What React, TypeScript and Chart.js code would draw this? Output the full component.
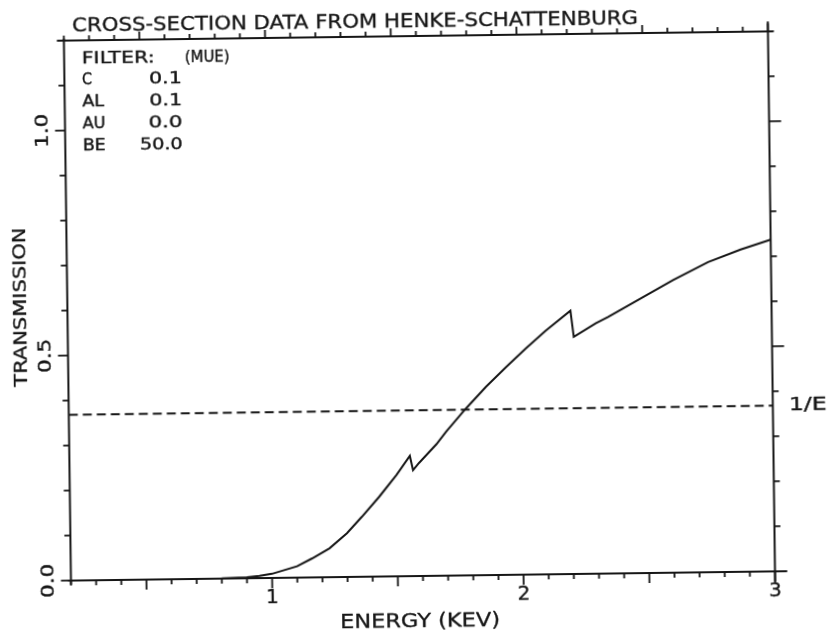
import React, { useEffect, useRef } from "react";
import { Chart, registerables } from "chart.js";

Chart.register(...registerables);

// Transmission curve of the filter stack
const energyKeV = [
  0.2, 0.5, 0.8, 0.9, 0.95, 1.0, 1.1, 1.16, 1.23, 1.3, 1.36, 1.43, 1.5, 1.554, 1.566, 1.59,
  1.66, 1.7, 1.78, 1.86, 1.94, 2.02, 2.1, 2.2, 2.212, 2.3, 2.35, 2.48, 2.61, 2.75, 2.88, 3.0,
];
const transmission = [
  0, 0, 0.0005, 0.002, 0.005, 0.009, 0.025, 0.042, 0.064, 0.097, 0.133, 0.177, 0.225, 0.267, 0.235, 0.251,
  0.292, 0.32, 0.371, 0.418, 0.461, 0.502, 0.541, 0.585, 0.527, 0.556, 0.57, 0.61, 0.65, 0.689, 0.716, 0.737,
];

// 1/e reference level
const oneOverE = 0.3679;
const referenceRange = [0.2, 3.0];

// Filter composition table
const filterElements = ["C", "AL", "AU", "BE"];
const filterThickness = ["0.1", "0.1", "0.0", "50.0"];

// Axis labelling
const xTickValues = [1, 2, 3];
const xTickLabels = ["1", "2", "3"];
const yTickValues = [0, 0.5, 1.0];
const yTickLabels = ["0.0", "0.5", "1.0"];

const INK = "#161616";
const FONT = '"DejaVu Sans", "Liberation Sans", sans-serif';

// Pen-plotter lettering: filled glyph with a thin outline, stretched to a set width
function drawFitted(
  ctx: CanvasRenderingContext2D,
  text: string,
  x: number,
  y: number,
  width: number,
  align: CanvasTextAlign,
) {
  const w = ctx.measureText(text).width || 1;
  ctx.save();
  ctx.translate(x, y);
  ctx.scale(width / w, 1);
  ctx.textAlign = align;
  ctx.lineWidth = 0.35;
  ctx.lineJoin = "round";
  ctx.fillText(text, 0, 0);
  ctx.strokeText(text, 0, 0);
  ctx.restore();
}

const plotterFrame = {
  id: "plotterFrame",
  afterDraw(chart: any) {
    const { ctx, chartArea, scales } = chart;
    const { left: L, right: R, top: T, bottom: B } = chartArea;
    const xs = scales.x;
    const ys = scales.y;
    ctx.save();
    ctx.strokeStyle = INK;
    ctx.fillStyle = INK;
    ctx.lineWidth = 2;
    ctx.lineCap = "butt";

    // frame
    ctx.beginPath();
    ctx.moveTo(L - 3, B);
    ctx.lineTo(R + 12, B);
    ctx.moveTo(L - 7, T);
    ctx.lineTo(R + 5, T);
    ctx.moveTo(L, T - 2);
    ctx.lineTo(L, B + 4);
    ctx.moveTo(R, T - 10);
    ctx.lineTo(R, B + 11);
    ctx.stroke();

    // tick marks every 0.1, longer every 0.5
    ctx.lineWidth = 1.8;
    ctx.beginPath();
    for (let i = 2; i <= 30; i++) {
      const px = xs.getPixelForValue(i / 10);
      const long = i % 5 === 0;
      ctx.moveTo(px, B);
      ctx.lineTo(px, B + (long ? 10 : 5));
      ctx.moveTo(px, T);
      ctx.lineTo(px, T - (long ? 8 : 5));
    }
    for (let j = 0; j <= 12; j++) {
      const py = ys.getPixelForValue(j / 10);
      const long = j % 5 === 0;
      ctx.moveTo(L, py);
      ctx.lineTo(L - (long ? 10 : 6), py);
      ctx.moveTo(R, py);
      ctx.lineTo(R + (long ? 12 : 6), py);
    }
    ctx.stroke();

    // x tick labels
    ctx.textBaseline = "middle";
    ctx.font = `20px ${FONT}`;
    xTickValues.forEach((v, i) => {
      const t = xTickLabels[i];
      drawFitted(ctx, t, xs.getPixelForValue(v), B + 20, ctx.measureText(t).width, "center");
    });

    // y tick labels, turned to read upward
    ctx.font = `18px ${FONT}`;
    yTickValues.forEach((v, i) => {
      ctx.save();
      ctx.translate(L - 22.5, ys.getPixelForValue(v));
      ctx.rotate(-Math.PI / 2);
      drawFitted(ctx, yTickLabels[i], 0, 0, 34, "center");
      ctx.restore();
    });

    // axis titles
    ctx.font = `20px ${FONT}`;
    drawFitted(ctx, "ENERGY (KEV)", (L + R) / 2 - 3.5, 622, 160, "center");
    ctx.save();
    ctx.translate(21, (T + B) / 2 - 4);
    ctx.rotate(-Math.PI / 2);
    ctx.font = `18px ${FONT}`;
    drawFitted(ctx, "TRANSMISSION", 0, 0, 159, "center");
    ctx.restore();

    // 1/E marker
    ctx.font = `18px ${FONT}`;
    drawFitted(ctx, "1/E", R + 16, ys.getPixelForValue(oneOverE), 38, "left");

    // title
    ctx.textBaseline = "alphabetic";
    ctx.font = `20px ${FONT}`;
    drawFitted(ctx, "CROSS-SECTION DATA FROM HENKE-SCHATTENBURG", L + 8.4, T - 9.4, 566, "left");

    // filter table
    ctx.font = `15px ${FONT}`;
    const rowY = (k: number) => T + 22.7 + k * 21.8;
    drawFitted(ctx, "FILTER:", L + 17.5, rowY(0), 73, "left");
    drawFitted(ctx, "(MUE)", L + 120.5, rowY(0), 45, "left");
    const nameWidths = [10, 22, 23, 23];
    const valueWidths = [33, 33, 34, 43];
    filterElements.forEach((el, k) => {
      drawFitted(ctx, el, L + 17.5, rowY(k + 1), nameWidths[k], "left");
      drawFitted(ctx, filterThickness[k], L + 117.5, rowY(k + 1), valueWidths[k], "right");
    });

    ctx.restore();
  },
};

export default function App() {
  const canvasRef = useRef<HTMLCanvasElement | null>(null);

  useEffect(() => {
    const canvas = canvasRef.current;
    if (!canvas) return;
    const chart = new Chart(canvas, {
      type: "line",
      data: {
        datasets: [
          {
            label: "Transmission",
            data: energyKeV.map((e, i) => ({ x: e, y: transmission[i] })),
            borderColor: INK,
            borderWidth: 2,
            pointRadius: 0,
            tension: 0,
            fill: false,
          },
          {
            label: "1/E",
            data: referenceRange.map((e) => ({ x: e, y: oneOverE })),
            borderColor: INK,
            borderWidth: 2,
            borderDash: [9, 5],
            pointRadius: 0,
            fill: false,
          },
        ],
      },
      options: {
        animation: false,
        responsive: false,
        devicePixelRatio: 1,
        layout: { padding: { left: 67.4, right: 58.5, top: 35.9, bottom: 61.1 } },
        plugins: {
          legend: { display: false },
          title: { display: false },
          tooltip: { enabled: false },
        },
        scales: {
          x: { type: "linear", min: 0.2, max: 3.0, display: false },
          y: { type: "linear", min: 0, max: 1.2, display: false },
        },
      },
      plugins: [plotterFrame],
    });
    return () => chart.destroy();
  }, []);

  return (
    <div
      style={{
        position: "fixed",
        left: 0,
        top: 0,
        width: 830,
        height: 637,
        background: "#ffffff",
        transform: "rotate(-0.75deg)",
        transformOrigin: "419.5px 305.9px",
      }}
    >
      <canvas ref={canvasRef} width={830} height={637} style={{ display: "block" }} />
    </div>
  );
}
